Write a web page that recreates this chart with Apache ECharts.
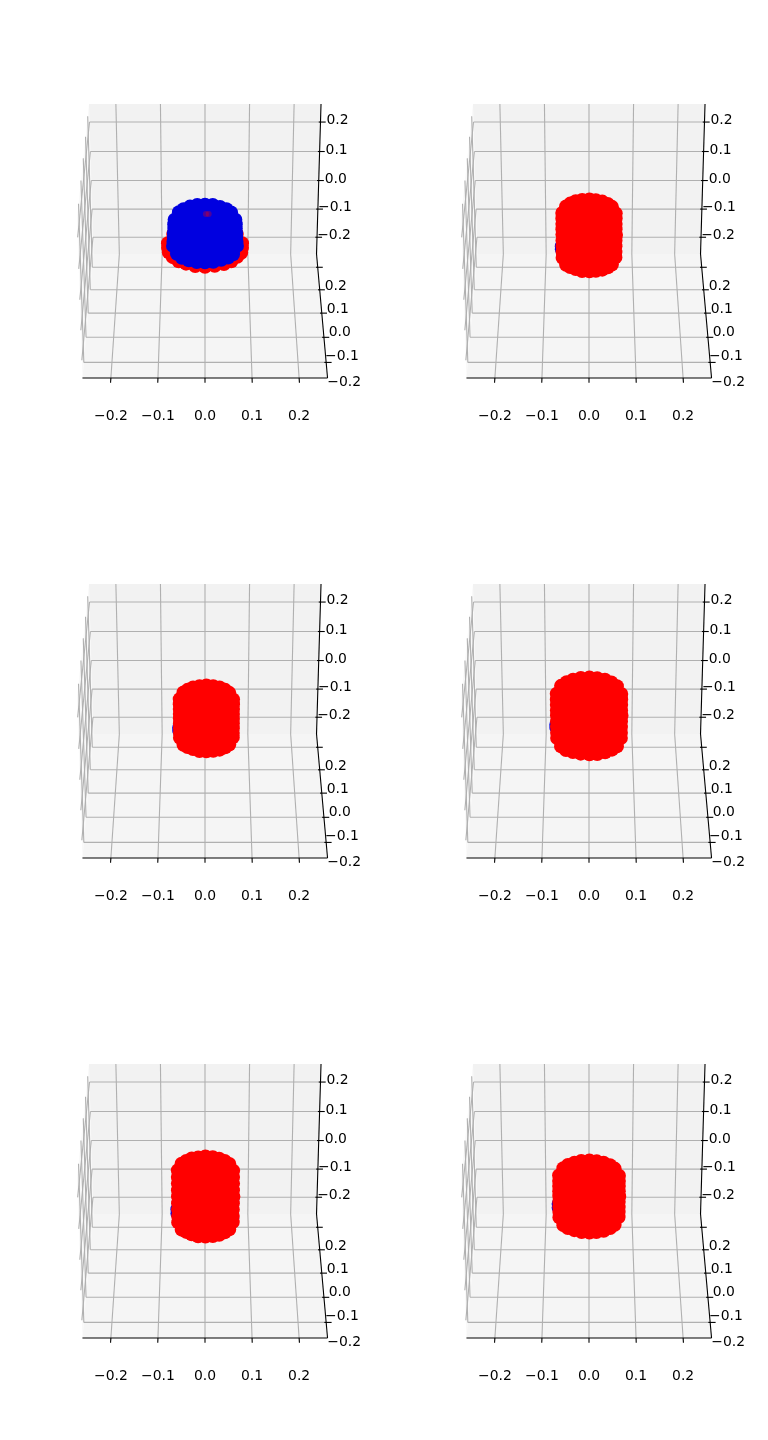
<!DOCTYPE html>
<html><head><meta charset="utf-8">
<style>html,body{margin:0;padding:0;background:#fff}#c{width:768px;height:1440px}</style>
<script src="https://cdn.jsdelivr.net/npm/echarts@6/dist/echarts.min.js"></script>
</head><body><div id="c"></div>
<script>
const tickValues=[-0.2,-0.1,0,0.1,0.2];
const tickLabels=['\u22120.2','\u22120.1','0.0','0.1','0.2'];

const p1Red=[[.081,0,-.035],[.079,-.021,-.036],[.07,-.041,-.034],[.057,-.057,-.036],[.041,-.07,-.035],[.021,-.079,-.034],[0,-.081,-.036],[-.021,-.079,-.035],[-.041,-.07,-.034],[-.057,-.057,-.036],[-.07,-.041,-.035],[-.079,-.021,-.034],[-.081,0,-.035],[.081,0,-.02],[.07,.041,-.02],[-.07,.041,-.02],[-.081,0,-.02],[.07,-.041,-.02],[-.07,-.041,-.02]];
const p1Blue=[[.066,0,.059],[.057,-.033,.06],[.033,-.057,.058],[0,-.066,.059],[-.033,-.057,.06],[-.057,-.033,.058],[-.066,0,.059],[-.057,.033,.059],[-.033,.057,.06],[0,.066,.06],[.033,.057,.059],[.057,.033,.058],[0,0,.059],[.035,0,.059],[-.035,0,.059],[0,.03,.059],[0,-.03,.059],[.018,.045,.059],[-.018,.045,.059],[.018,-.045,.059],[-.018,-.045,.059],
[.067,0,.03],[.058,-.033,.03],[.034,-.058,.031],[0,-.067,.03],[-.034,-.058,.029],[-.058,-.033,.03],[-.067,0,.031],
[.068,0,0],[.059,-.034,.001],[.034,-.059,0],[0,-.068,-.001],[-.034,-.059,0],[-.059,-.034,.001],[-.068,0,0],
[.07,0,-.029],[.061,-.035,-.03],[.035,-.061,-.028],[0,-.07,-.029],[-.035,-.061,-.03],[-.061,-.035,-.028],[-.07,0,-.029]];
const p1BlueEdge=[[.067,0,.044],[-.067,0,.044],[.068,0,.015],[-.068,0,.015],[.069,0,-.015],[-.069,0,-.015],[.017,.064,.06],[-.017,.064,.06],[.047,.047,.059],[-.047,.047,.059],[.018,-.068,-.029],[-.018,-.068,-.03],[.05,-.05,-.029],[-.05,-.05,-.03]];
const p1BlueCore=[[0,0,.03],[0,0,-.003]];
const p1Spot=[[.002,.025,.059],[.008,.025,.059]];

const p2Blue=[[-.055,0,.05],[-.048,-.03,.05],[.05,-.03,.05],[-.055,0,-.002],[-.048,-.03,-.003],[-.03,-.05,-.002],[.027,-.05,-.002],[.05,-.03,-.002],[.054,0,-.002],[-.0595,0,-.03],[-.052,-.028,-.032],[-.03,-.05,-.05],[0,-.055,-.05],[-.0595,0,-.04],[-.05,-.028,-.052],[.027,-.05,-.05],[.05,-.028,-.05],[.054,0,-.05]];
const p2Red=[[.058,0,.08],[.05,-.029,.082],[.029,-.05,.081],[.001,-.058,.082],[-.029,-.05,.08],[-.05,-.029,.082],[-.058,0,.081],[-.05,.029,.081],[-.029,.05,.083],[.001,.058,.083],[.029,.05,.082],[.05,.029,.08],[0,0,.082],[.03,0,.08],[-.03,0,.08],[0,.025,.08],[0,-.025,.08],
[.058,0,.045],[.05,-.029,.046],[.029,-.05,.044],[.001,-.058,.045],[-.029,-.05,.046],[-.05,-.029,.044],[-.058,0,.045],
[.059,0,.008],[.051,-.029,.007],[.029,-.05,.009],[0,-.058,.008],[-.029,-.051,.007],[-.05,-.029,.008],[-.058,0,.009],
[.058,0,-.03],[.05,-.03,-.031],[.03,-.05,-.03],[.001,-.059,-.029],[-.029,-.05,-.03],[-.051,-.029,-.031],[-.058,0,-.03],
[.058,0,-.068],[.05,-.029,-.069],[.029,-.05,-.07],[.001,-.058,-.069],[-.029,-.05,-.068],[-.05,-.029,-.07],[-.058,0,-.069]];
const p2RedEdge=[[.058,0,.063],[-.058,0,.063],[.058,0,.027],[-.058,0,.027],[.058,0,-.011],[-.058,0,-.011],[.058,0,-.05],[-.058,0,-.05],[.015,.056,.082],[-.015,.056,.083],[.041,.041,.081],[-.041,.041,.082],[.015,-.056,-.069],[-.015,-.056,-.07],[.041,-.041,-.069],[-.041,-.041,-.068]];
const p2RedCore=[[.001,0,.059],[.001,0,.008],[.001,0,-.043]];

const p3Blue=[[-.052,0,.03],[-.045,-.03,.03],[.05,-.03,.03],[-.052,0,-.01],[-.045,-.03,-.012],[-.027,-.05,-.01],[.03,-.05,-.01],[.052,-.03,-.01],[.056,0,-.01],[-.0565,0,-.035],[-.049,-.028,-.04],[-.027,-.05,-.055],[.003,-.055,-.055],[-.0565,0,-.045],[-.047,-.028,-.052],[.03,-.05,-.055],[.052,-.028,-.055],[.056,0,-.055]];
const p3Red=[[.061,0,.06],[.053,-.029,.061],[.032,-.05,.062],[.003,-.058,.061],[-.026,-.05,.06],[-.047,-.029,.062],[-.055,0,.061],[-.047,.029,.061],[-.026,.05,.062],[.003,.058,.063],[.032,.05,.062],[.053,.029,.06],[.003,0,.061],[.033,0,.06],[-.027,0,.06],[.003,.025,.06],[.003,-.025,.06],
[.061,0,.028],[.053,-.03,.029],[.032,-.05,.027],[.003,-.059,.028],[-.026,-.05,.029],[-.047,-.029,.027],[-.055,0,.028],
[.061,0,-.005],[.054,-.029,-.006],[.032,-.051,-.004],[.003,-.058,-.005],[-.026,-.05,-.006],[-.047,-.03,-.005],[-.055,0,-.004],
[.061,0,-.037],[.053,-.029,-.038],[.032,-.05,-.036],[.004,-.058,-.037],[-.026,-.051,-.038],[-.047,-.029,-.037],[-.055,0,-.036],
[.061,0,-.068],[.053,-.029,-.069],[.032,-.05,-.07],[.003,-.058,-.069],[-.026,-.05,-.068],[-.047,-.029,-.07],[-.055,0,-.069]];
const p3RedEdge=[[.061,0,.044],[-.055,0,.044],[.061,0,.011],[-.055,0,.011],[.061,0,-.021],[-.055,0,-.021],[.061,0,-.053],[-.055,0,-.053],[.018,.056,.062],[-.012,.056,.062],[.044,.041,.061],[-.038,.041,.061],[.018,-.056,-.069],[-.012,-.056,-.07],[.044,-.041,-.069],[-.038,-.041,-.068]];
const p3RedCore=[[.003,0,.039],[.003,0,-.002],[.003,0,-.043]];

const p4Blue=[[-.067,0,.05],[-.058,-.035,.05],[.055,-.035,.05],[-.067,0,0],[-.058,-.035,-.002],[-.036,-.06,0],[.034,-.06,0],[.06,-.035,0],[.068,0,0],[-.0715,0,-.025],[-.063,-.033,-.03],[-.036,-.06,-.055],[0,-.066,-.055],[-.0715,0,-.035],[-.06,-.033,-.052],[.034,-.06,-.055],[.06,-.033,-.055],[.068,0,-.055]];
const p4Red=[[.07,0,.078],[.061,-.035,.08],[.035,-.061,.079],[0,-.07,.08],[-.035,-.061,.078],[-.061,-.035,.08],[-.07,0,.079],[-.061,.035,.079],[-.035,.061,.08],[.001,.07,.081],[.035,.061,.08],[.061,.035,.078],[0,0,.079],[.035,0,.078],[-.035,0,.078],[0,.03,.078],[0,-.03,.078],[.018,.045,.079],[-.018,.045,.079],[.018,-.045,.079],[-.018,-.045,.079],
[.07,0,.042],[.061,-.035,.043],[.035,-.061,.041],[.018,-.067,.042],[0,-.07,.042],[-.018,-.067,.042],[-.035,-.061,.043],[-.061,-.035,.041],[-.07,0,.042],
[.071,0,.005],[.062,-.035,.004],[.035,-.061,.006],[.018,-.067,.005],[0,-.07,.005],[-.018,-.067,.005],[-.035,-.062,.004],[-.061,-.035,.005],[-.07,0,.006],
[.07,0,-.033],[.061,-.036,-.034],[.036,-.061,-.033],[.018,-.068,-.033],[.001,-.071,-.032],[-.018,-.068,-.033],[-.035,-.061,-.033],[-.062,-.035,-.034],[-.07,0,-.033],
[.07,0,-.07],[.061,-.035,-.071],[.035,-.061,-.07],[.018,-.067,-.071],[.001,-.07,-.07],[-.018,-.067,-.07],[-.035,-.061,-.069],[-.061,-.035,-.071],[-.07,0,-.07]];
const p4RedEdge=[[.07,0,.06],[-.07,0,.06],[.07,0,.023],[-.07,0,.023],[.07,0,-.014],[-.07,0,-.014],[.07,0,-.052],[-.07,0,-.052],[.018,.068,.08],[-.018,.068,.081],[.049,.05,.079],[-.049,.05,.08],[.05,-.05,-.07],[-.05,-.05,-.071]];
const p4RedCore=[[0,0,.049],[0,0,.001],[0,0,-.044]];

const p5Blue=[[-.056,0,.05],[-.048,-.03,.05],[.05,-.03,.05],[-.056,0,-.005],[-.048,-.03,-.007],[-.03,-.052,-.005],[.031,-.052,-.005],[.053,-.03,-.005],[.06,0,-.005],[-.0605,0,-.04],[-.053,-.028,-.045],[-.03,-.052,-.07],[.001,-.058,-.07],[-.0605,0,-.055],[-.05,-.028,-.062],[.031,-.052,-.07],[.053,-.028,-.07],[.06,0,-.07]];
const p5Red=[[.061,0,.089],[.053,-.03,.09],[.031,-.052,.091],[.001,-.06,.09],[-.029,-.052,.089],[-.051,-.03,.091],[-.059,0,.09],[-.051,.03,.09],[-.029,.052,.091],[.001,.06,.092],[.031,.052,.09],[.053,.03,.089],[.001,0,.09],[.032,0,.089],[-.03,0,.089],[.001,.026,.089],[.001,-.026,.089],
[.061,0,.046],[.053,-.03,.047],[.031,-.052,.045],[.001,-.06,.046],[-.029,-.052,.047],[-.051,-.03,.045],[-.059,0,.046],
[.062,0,.002],[.053,-.031,.001],[.031,-.052,.003],[.001,-.06,.002],[-.029,-.053,.001],[-.051,-.03,.002],[-.059,0,.003],
[.061,0,-.042],[.053,-.03,-.043],[.032,-.052,-.041],[.002,-.061,-.042],[-.029,-.052,-.043],[-.052,-.03,-.042],[-.059,0,-.041],
[.061,0,-.084],[.053,-.03,-.085],[.031,-.052,-.086],[.001,-.06,-.085],[-.029,-.052,-.084],[-.051,-.03,-.086],[-.059,0,-.085]];
const p5RedEdge=[[.061,0,.068],[-.059,0,.068],[.061,0,.024],[-.059,0,.024],[.061,0,-.02],[-.059,0,-.02],[.061,0,-.063],[-.059,0,-.063],[.017,.058,.091],[-.015,.058,.09],[.043,.042,.09],[-.041,.042,.09],[.017,-.058,-.085],[-.015,-.058,-.086],[.043,-.042,-.085],[-.041,-.042,-.084]];
const p5RedCore=[[.001,0,.059],[.001,0,.004],[.001,0,-.06]];

const p6Blue=[[-.062,0,.05],[-.054,-.032,.05],[.05,-.032,.05],[-.062,0,0],[-.054,-.032,-.002],[-.034,-.056,0],[.032,-.056,0],[.056,-.032,0],[.063,0,0],[-.0665,0,-.022],[-.058,-.03,-.03],[-.034,-.056,-.053],[0,-.062,-.053],[-.0665,0,-.035],[-.056,-.03,-.05],[.032,-.056,-.053],[.056,-.03,-.053],[.063,0,-.053]];
const p6Red=[[.065,0,.072],[.056,-.032,.074],[.032,-.056,.073],[0,-.065,.074],[-.032,-.056,.072],[-.056,-.032,.074],[-.065,0,.073],[-.056,.032,.073],[-.032,.056,.074],[.001,.065,.075],[.032,.056,.074],[.056,.032,.072],[0,0,.073],[.033,0,.072],[-.033,0,.072],[0,.028,.072],[0,-.028,.072],
[.065,0,.038],[.056,-.032,.039],[.032,-.056,.037],[.016,-.063,.038],[0,-.065,.038],[-.016,-.063,.038],[-.032,-.056,.039],[-.056,-.032,.037],[-.065,0,.038],
[.066,0,.003],[.057,-.032,.002],[.032,-.056,.004],[.016,-.063,.003],[0,-.065,.003],[-.016,-.063,.003],[-.032,-.057,.002],[-.056,-.032,.003],[-.065,0,.004],
[.065,0,-.033],[.056,-.033,-.034],[.033,-.056,-.032],[.016,-.063,-.033],[.001,-.066,-.033],[-.016,-.063,-.033],[-.032,-.056,-.034],[-.057,-.032,-.033],[-.065,0,-.032],
[.065,0,-.067],[.056,-.032,-.068],[.032,-.056,-.069],[.016,-.063,-.068],[.001,-.065,-.068],[-.016,-.063,-.068],[-.032,-.056,-.067],[-.056,-.032,-.069],[-.065,0,-.068]];
const p6RedEdge=[[.065,0,.055],[-.065,0,.055],[.065,0,.02],[-.065,0,.02],[.065,0,-.015],[-.065,0,-.015],[.065,0,-.05],[-.065,0,-.05],[.017,.062,.074],[-.017,.062,.075],[.046,.046,.073],[-.046,.046,.074],[.046,-.046,-.068],[-.046,-.046,-.068]];
const p6RedCore=[[0,0,.049],[0,0,.001],[0,0,-.043]];

const LIM=0.2604, A=119.2, B1=59.5, B2=77.4, P=0.04803, Q=0.02074;
const CX=205, CY=237.3, COLSTEP=384, ROWSTEP=480;
const GRID_L=170, GRID_T=170, GRID_B=190;
const RED='#ff0000', BLUE='#0000e0';
function proj(X,Y,Z){const w=1+P*Y-Q*Z;return [A*X/w,(B1*Y+B2*Z)/w];}
function pd(p){return proj(p[0]/LIM,p[1]/LIM,p[2]/LIM);}

function frame(){
  const prims=[];
  const poly=(pts,fill)=>prims.push({k:'p',pts:pts.map(a=>proj(a[0],a[1],a[2])),fill});
  const seg=(a,b,col,wd)=>prims.push({k:'l',a:proj(a[0],a[1],a[2]),b:proj(b[0],b[1],b[2]),col,wd});
  const txt=(a,dx,dy,t)=>prims.push({k:'t',a:proj(a[0],a[1],a[2]),dx,dy,t});
  poly([[-1,-1,-1],[-1,1,-1],[-1,1,1],[-1,-1,1]],'#f9f9f9');
  poly([[-1,1,-1],[1,1,-1],[1,1,1],[-1,1,1]],'#f2f2f2');
  poly([[-1,-1,-1],[1,-1,-1],[1,1,-1],[-1,1,-1]],'#f5f5f5');
  const G='#b0b0b0',K='#000',W=1.1;
  tickValues.forEach(v=>{const t=v/LIM;
    seg([t,-1,-1],[t,1,-1],G,W);seg([t,1,-1],[t,1,1],G,W);
    seg([1,t,-1],[-1,t,-1],G,W);seg([-1,t,-1],[-1,t,1],G,W);
    seg([1,1,t],[-1,1,t],G,W);seg([-1,1,t],[-1,-1,t],G,W);
  });
  seg([-1,-1,-1],[1,-1,-1],K,W);seg([1,-1,-1],[1,1,-1],K,W);seg([1,1,-1],[1,1,1],K,W);
  tickValues.forEach((v,i)=>{const t=v/LIM,l=tickLabels[i];
    seg([t,-1.07,-1],[t,-1,-1],K,W);
    seg([.985,t,-1],[1.045,t,-1],K,W);
    seg([.985,1,t],[1.045,1,t],K,W);
    txt([t,-1,-1],0,38,l);
    txt([1,t,-1],18,19.5,l);
    txt([1,1,t],17,-1.5,l);
  });
  return prims;
}
const framePrims=frame();
function renderFrame(params,api){
  const p=framePrims[params.dataIndex];
  if(p.k==='p')return {type:'polygon',shape:{points:p.pts.map(q=>api.coord(q))},style:{fill:p.fill},silent:true};
  if(p.k==='l'){const a=api.coord(p.a),b=api.coord(p.b);
    return {type:'line',shape:{x1:a[0],y1:a[1],x2:b[0],y2:b[1]},style:{stroke:p.col,lineWidth:p.wd},silent:true};}
  const a=api.coord(p.a);
  return {type:'text',style:{text:p.t,x:a[0]+p.dx,y:a[1]+p.dy,fill:'#000',fontSize:13.9,fontFamily:'"DejaVu Sans"',align:'center',verticalAlign:'middle'},silent:true};
}
const panels=[
 {layers:[[p1Red,RED,14,1],[p1Blue,BLUE,14,1],[p1BlueEdge,BLUE,14,1],[p1BlueCore,BLUE,54,1],[p1Spot,RED,6,.3]]},
 {layers:[[p2Blue,BLUE,14,1],[p2Red,RED,14,1],[p2RedEdge,RED,14,1],[p2RedCore,RED,46,1]]},
 {layers:[[p3Blue,BLUE,14,1],[p3Red,RED,14,1],[p3RedEdge,RED,14,1],[p3RedCore,RED,46,1]]},
 {layers:[[p4Blue,BLUE,14,1],[p4Red,RED,14,1],[p4RedEdge,RED,14,1],[p4RedCore,RED,56,1]]},
 {layers:[[p5Blue,BLUE,14,1],[p5Red,RED,14,1],[p5RedEdge,RED,14,1],[p5RedCore,RED,48,1]]},
 {layers:[[p6Blue,BLUE,14,1],[p6Red,RED,14,1],[p6RedEdge,RED,14,1],[p6RedCore,RED,50,1]]}
];
const grid=[],xAxis=[],yAxis=[],series=[];
panels.forEach((pn,i)=>{
  const col=i%2,row=(i-col)/2;
  grid.push({left:CX-GRID_L+col*COLSTEP,top:CY-GRID_T+row*ROWSTEP,width:GRID_L*2,height:GRID_T+GRID_B});
  xAxis.push({gridIndex:i,type:'value',min:-GRID_L,max:GRID_L,show:false});
  yAxis.push({gridIndex:i,type:'value',min:-GRID_B,max:GRID_T,show:false});
  series.push({type:'custom',xAxisIndex:i,yAxisIndex:i,coordinateSystem:'cartesian2d',clip:false,silent:true,animation:false,z:1,
    renderItem:renderFrame,data:framePrims.map((_,k)=>[k])});
  pn.layers.forEach((ly,j)=>series.push({type:'scatter',xAxisIndex:i,yAxisIndex:i,clip:false,silent:true,animation:false,z:2+j,
    symbol:'circle',symbolSize:ly[2],itemStyle:{color:ly[1],opacity:ly[3]},data:ly[0].map(pd)}));
});
const chart=echarts.init(document.getElementById('c'),null,{renderer:'canvas'});
chart.setOption({animation:false,backgroundColor:'#fff',tooltip:{show:false},legend:{show:false},grid,xAxis,yAxis,series});
</script></body></html>
